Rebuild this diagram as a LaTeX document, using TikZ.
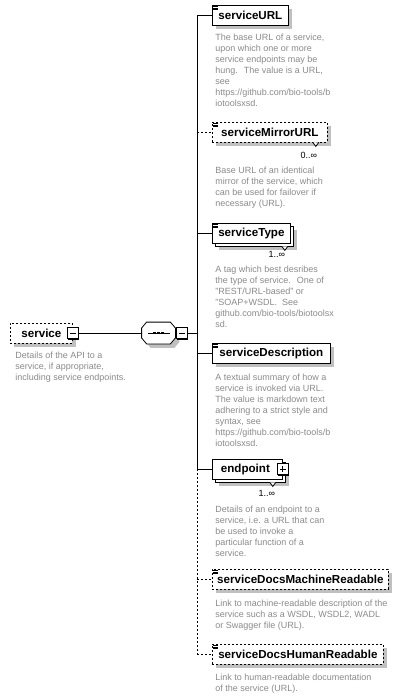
\documentclass[tikz,border=0pt]{standalone}
\usepackage{fontspec}
\setmainfont{Liberation Sans}
\usetikzlibrary{shadows,positioning}
\definecolor{descgray}{HTML}{8A8A8A}
\definecolor{shadowgray}{HTML}{C0C0C0}

\begin{document}
\begin{tikzpicture}[x=1pt,y=-1pt,line width=0.8pt,
  elem/.style={draw,fill=white,inner sep=0pt,minimum height=20pt,anchor=west,
    font=\bfseries\fontsize{11.6}{13}\selectfont,
    general shadow={fill=shadowgray,shadow xshift=4pt,shadow yshift=-4pt}},
  optelem/.style={elem,dash pattern=on 2pt off 2pt},
  multielem/.style={draw,fill=white,inner sep=0pt,minimum height=20pt,anchor=west,
    font=\bfseries\fontsize{11.6}{13}\selectfont,
    general shadow={fill=shadowgray,shadow xshift=7pt,shadow yshift=-7pt},
    general shadow={fill=white,draw=black,shadow xshift=3pt,shadow yshift=-3pt}},
  desc/.style={anchor=north west,align=left,inner sep=0pt,text=descgray,
    font=\fontsize{9}{11}\selectfont},
  mult/.style={inner sep=0pt,font=\fontsize{9}{11}\selectfont},
  optline/.style={dash pattern=on 2pt off 2pt},
  toggle/.style={draw,fill=white,inner sep=0pt,minimum size=11pt,
    general shadow={fill=black,shadow xshift=1pt,shadow yshift=-1pt}},
  minus/.style={toggle,path picture={
    \draw ([xshift=2.5pt]path picture bounding box.west) -- ([xshift=-2.5pt]path picture bounding box.east);}},
  plus/.style={toggle,path picture={
    \draw ([xshift=2.5pt]path picture bounding box.west) -- ([xshift=-2.5pt]path picture bounding box.east);
    \draw ([yshift=-2.5pt]path picture bounding box.north) -- ([yshift=2.5pt]path picture bounding box.south);}}]
  \useasboundingbox (0,0) rectangle (405,696);

  % root element and its sequence
  \node[optelem,minimum width=62pt] (svc) at (10,333) {service};
  \node[minus] (svcm) at (svc.east) {};
  \node[desc] (svcdesc) at (15,351.5) {Details of the API to a\\service, if appropriate,\\including service endpoints.};

  \node[minimum width=33pt,minimum height=21pt,inner sep=0pt] (seq) at (158.5,333) {};
  \draw[fill=white,general shadow={fill=shadowgray,shadow xshift=4pt,shadow yshift=-4pt}]
    ([yshift=5pt]seq.west) -- ([xshift=5pt]seq.north west) -- ([xshift=-5pt]seq.north east)
    -- ([yshift=5pt]seq.east) -- ([yshift=-5pt]seq.east) -- ([xshift=-5pt]seq.south east)
    -- ([xshift=5pt]seq.south west) -- ([yshift=-5pt]seq.west) -- cycle;
  \draw ([xshift=-11pt]seq.center) -- ([xshift=11pt]seq.center);
  \foreach \dx in {-4,0,4}
    \fill ([xshift=\dx pt]seq.center) +(-1.2,-1.2) rectangle +(1.2,1.2);
  \node[minus,right=0.5pt of seq] (seqm) {};

  % children
  \node[elem,minimum width=76pt] (url) at (212,15) {serviceURL};
  \node[desc] (urldesc) at (215,33.5) {The base URL of a service,\\upon which one or more\\service endpoints may be\\hung.~ The value is a URL,\\see\\https://github.com/bio-tools/b\\iotoolsxsd.};

  \node[optelem,minimum width=115pt] (mirror) at (212,132) {serviceMirrorURL};
  \node[desc] (mirrordesc) at (215,166.5) {Base URL of an identical\\mirror of the service, which\\can be used for failover if\\necessary (URL).};

  \node[multielem,minimum width=78pt] (type) at (212,233) {serviceType};
  \node[desc] (typedesc) at (215,265.5) {A tag which best desribes\\the type of service.~ One of\\"REST/URL-based" or\\"SOAP+WSDL.~ See\\github.com/bio-tools/biotoolsx\\sd.};

  \node[elem,minimum width=118pt] (descr) at (212,353) {serviceDescription};
  \node[desc] (descrdesc) at (215,373.5) {A textual summary of how a\\service is invoked via URL.\\The value is markdown text\\adhering to a strict style and\\syntax, see\\https://github.com/bio-tools/b\\iotoolsxsd.};

  \node[multielem,minimum width=70pt] (ep) at (212,469) {endpoint\hspace*{4pt}};
  \node[plus] (epp) at (ep.east) {};
  \node[desc] (epdesc) at (215,505.5) {Details of an endpoint to a\\service, i.e. a URL that can\\be used to invoke a\\particular function of a\\service.};

  \node[optelem,minimum width=176pt] (machine) at (212,579) {serviceDocsMachineReadable};
  \node[desc] (machinedesc) at (215,599.5) {Link to machine-readable description of the\\service such as a WSDL, WSDL2, WADL\\or Swagger file (URL).};

  \node[optelem,minimum width=171pt] (human) at (212,654) {serviceDocsHumanReadable};
  \node[desc] (humandesc) at (215,673.5) {Link to human-readable documentation\\of the service (URL).};

  % text type icons
  \foreach \n in {url,mirror,type,descr,machine,human}
    \foreach \dy in {1.5,3.2,5}
      \draw[line width=0.5pt] ([xshift=1pt,yshift=-\dy pt]\n.north west) -- ++(4.5,0);

  % occurrence marks
  \draw[fill=white] ([xshift=-15pt]mirror.south east) -- ++(3,4) -- ++(3,-4);
  \node[mult] (mirrormult) at ([xshift=-19pt,yshift=-13pt]mirror.south east) {0..∞};
  \draw[fill=white] ([xshift=-9pt,yshift=-3pt]type.south east) -- ++(3,4) -- ++(3,-4);
  \node[mult] (typemult) at ([xshift=-14pt,yshift=-11pt]type.south east) {1..∞};
  \draw[fill=white] ([xshift=-13pt,yshift=-3pt]ep.south east) -- ++(3,4) -- ++(3,-4);
  \node[mult] (epmult) at ([xshift=-16pt,yshift=-14pt]ep.south east) {1..∞};

  % connectors
  \coordinate (spine) at (197,0);
  \draw (svcm.east) -- (seq.west);
  \draw (seqm.east) -- (seqm.east -| spine);
  \draw (url.west -| spine) -- (ep.west -| spine);
  \draw[optline] (ep.west -| spine) -- (human.west -| spine);
  \foreach \n in {url,type,descr,ep}
    \draw (\n.west -| spine) -- (\n.west);
  \foreach \n in {mirror,machine,human}
    \draw[optline] (\n.west -| spine) -- (\n.west);
\end{tikzpicture}
\end{document}
